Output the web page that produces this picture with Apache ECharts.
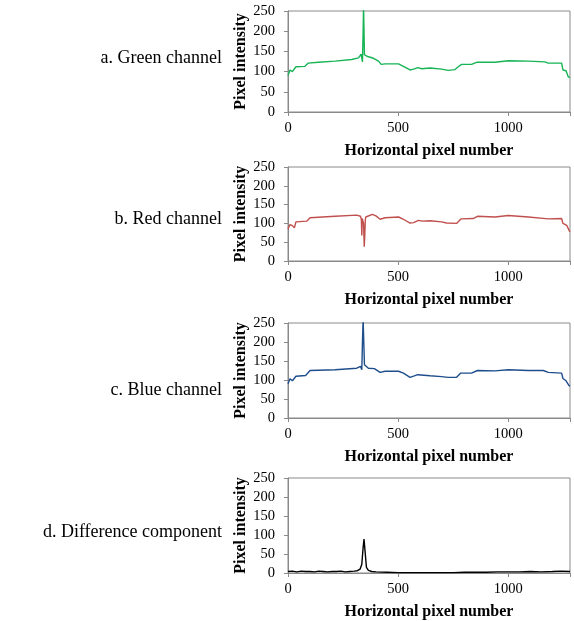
<!DOCTYPE html>
<html><head><meta charset="utf-8">
<script src="https://cdn.jsdelivr.net/npm/echarts@6/dist/echarts.min.js"></script>
<style>html,body{margin:0;padding:0;background:#fff}#c{width:574px;height:621px}</style>
</head><body><div id="c"></div>
<script>
// Panel labels
const panelLabels = ['a. Green channel', 'b. Red channel', 'c. Blue channel', 'd. Difference component'];
const xAxisName = 'Horizontal pixel number';
const yAxisName = 'Pixel intensity';
const yTicks = [0, 50, 100, 150, 200, 250];
const xTicks = [0, 500, 1000];

// Green channel
const greenX = [0,9,20,29,36,77,92,138,214,289,320,332,338,341,343,345,347,358,388,411,423,441,502,524,554,570,589,607,645,697,727,758,773,788,833,856,939,1000,1091,1166,1181,1242,1248,1262,1272,1280];
const greenY = [90,104,100,96,112,113,121,123,126,130,134,143,124,200,260,260,142,138,133,126,118,119,119,113,104,106,110,107,109,106,103,105,112,118,118,123,123,127,126,124,121,121,104,102,87,85];

// Red channel
const redX = [0,9,20,29,36,85,100,214,312,329,333,335,337,339,343,346,348,351,353,362,383,399,418,441,502,524,554,570,592,610,645,697,720,765,785,840,860,939,1000,1091,1181,1242,1248,1265,1277,1280];
const redY = [85,97,94,88,104,106,115,119,122,119,110,68,113,113,100,38,60,110,117,122,124,120,111,115,117,111,101,102,108,106,107,104,101,100,112,113,119,117,121,117,112,113,100,95,80,78];

// Blue channel
const blueX = [0,9,20,29,36,80,100,214,312,329,335,338,341,344,347,365,392,418,441,502,524,554,570,589,645,697,727,765,783,833,860,939,1000,1091,1159,1181,1242,1248,1262,1275,1280];
const blueY = [90,103,98,95,110,112,125,127,131,136,127,200,260,260,140,131,130,120,123,123,118,107,110,114,111,109,107,107,118,118,125,124,127,125,125,120,118,104,98,86,84];

// Difference component
const diffX = [0,20,40,60,80,100,120,140,160,180,200,220,240,260,280,300,315,327,335,341,345,350,356,365,380,400,450,500,550,600,650,700,750,800,850,900,950,1000,1050,1100,1150,1200,1240,1280];
const diffY = [4,5,3,5,4,4,3,5,4,3,4,4,5,3,4,5,6,10,23,67,89,56,15,7,4,3,2,1,1,1,1,1,1,2,2,2,3,3,3,4,3,4,5,4];

const panels = [
  {x: greenX, y: greenY, color: '#16b455', top: 11, height: 101, labelY: 58},
  {x: redX, y: redY, color: '#c0504d', top: 167, height: 94, labelY: 219},
  {x: blueX, y: blueY, color: '#1f4e8c', top: 323, height: 95, labelY: 390},
  {x: diffX, y: diffY, color: '#000000', top: 478, height: 96, labelY: 532}
];

const font = '"Liberation Serif", "Times New Roman", serif';
const grids = [], xAxes = [], yAxes = [], series = [], graphics = [];
panels.forEach((p, i) => {
  grids.push({left: 288, right: 4, top: p.top, height: p.height, show: true, borderColor: '#8a8a8a', borderWidth: 1, containLabel: false});
  xAxes.push({
    type: 'value', gridIndex: i, min: 0, max: 1280, interval: 500,
    name: xAxisName, nameLocation: 'middle', nameGap: 31,
    nameTextStyle: {fontFamily: font, fontWeight: 'bold', fontSize: 16, color: '#000'},
    axisLine: {show: true, lineStyle: {color: '#8a8a8a'}},
    axisTick: {show: true, length: 4, lineStyle: {color: '#8a8a8a'}},
    axisLabel: {fontFamily: font, fontSize: 14.5, color: '#000', margin: 9,
      formatter: v => xTicks.indexOf(v) >= 0 ? String(v) : ''},
    splitLine: {show: false}
  });
  yAxes.push({
    type: 'value', gridIndex: i, min: yTicks[0], max: yTicks[yTicks.length - 1], interval: 50,
    name: yAxisName, nameLocation: 'middle', nameGap: 37, nameRotate: 90,
    nameTextStyle: {fontFamily: font, fontWeight: 'bold', fontSize: 16, color: '#000'},
    axisLine: {show: true, lineStyle: {color: '#8a8a8a'}},
    axisTick: {show: true, length: 4, lineStyle: {color: '#8a8a8a'}},
    axisLabel: {fontFamily: font, fontSize: 14.5, color: '#000', margin: 13},
    splitLine: {show: false}
  });
  series.push({
    type: 'line', xAxisIndex: i, yAxisIndex: i,
    data: p.x.map((v, k) => [v, p.y[k]]),
    showSymbol: false, symbol: 'none', smooth: false, clip: true,
    lineStyle: {color: p.color, width: 1.4}, animation: false
  });
  graphics.push({
    type: 'text', x: 222, y: p.labelY,
    style: {text: panelLabels[i], fontFamily: font, fontSize: 18, fill: '#000', textAlign: 'right', textVerticalAlign: 'middle'}
  });
});

const chart = echarts.init(document.getElementById('c'), null, {renderer: 'canvas'});
chart.setOption({
  animation: false,
  grid: grids, xAxis: xAxes, yAxis: yAxes, series: series,
  graphic: graphics
});
</script></body></html>
